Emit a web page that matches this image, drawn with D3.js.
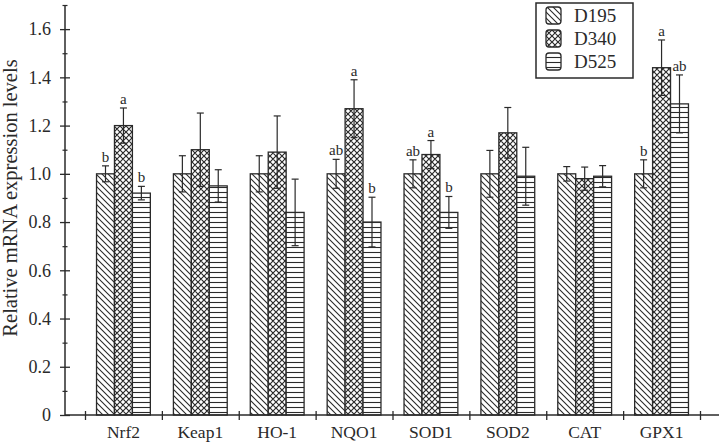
<!DOCTYPE html>
<html><head><meta charset="utf-8">
<script src="https://cdn.jsdelivr.net/npm/d3@7/dist/d3.min.js"></script>
<style>
body{margin:0;background:#fff;}
svg{display:block;font-family:"Liberation Serif","Times New Roman",serif;}
</style></head>
<body><svg id="chart" width="722" height="443"></svg>
<script>
const categories = ["Nrf2","Keap1","HO-1","NQO1","SOD1","SOD2","CAT","GPX1"];
const seriesNames = ["D195","D340","D525"];
const d195 = [1.00,1.00,1.00,1.00,1.00,1.00,1.00,1.00];
const d340 = [1.20,1.10,1.09,1.27,1.08,1.17,0.98,1.44];
const d525 = [0.92,0.95,0.84,0.80,0.84,0.99,0.99,1.29];
const d195Err = [0.033,0.075,0.075,0.06,0.058,0.097,0.03,0.058];
const d340Err = [0.073,0.152,0.15,0.12,0.058,0.105,0.048,0.115];
const d525Err = [0.028,0.067,0.138,0.103,0.066,0.12,0.044,0.12];
const d195Sig = ["b","","","ab","ab","","","b"];
const d340Sig = ["a","","","a","a","","","a"];
const d525Sig = ["b","","","b","b","","","ab"];
const yMajorTicks = [0,0.2,0.4,0.6,0.8,1.0,1.2,1.4,1.6];
const yMinorTicks = [0.1,0.3,0.5,0.7,0.9,1.1,1.3,1.5,1.7];
const yTitle = "Relative mRNA expression levels";

const values = [d195,d340,d525];
const errs = [d195Err,d340Err,d525Err];
const sigs = [d195Sig,d340Sig,d525Sig];

const svg = d3.select("#chart");
const ink = "#2a2a2a";
const defs = svg.append("defs");

// patterns
const p1 = defs.append("pattern").attr("id","pat0").attr("patternUnits","userSpaceOnUse")
  .attr("width",6).attr("height",6);
p1.append("rect").attr("width",6).attr("height",6).attr("fill","#fff");
p1.append("path").attr("d","M0,0L6,6M-3,3L3,9M3,-3L9,3").attr("stroke",ink).attr("stroke-width",1.1);

const p2 = defs.append("pattern").attr("id","pat1").attr("patternUnits","userSpaceOnUse")
  .attr("width",6).attr("height",6);
p2.append("rect").attr("width",6).attr("height",6).attr("fill","#fff");
p2.append("path").attr("d","M0,0L6,6M-3,3L3,9M3,-3L9,3M6,0L0,6M-3,3L3,-3M3,9L9,3").attr("stroke",ink).attr("stroke-width",1.2);

const p3 = defs.append("pattern").attr("id","pat2").attr("patternUnits","userSpaceOnUse")
  .attr("width",6).attr("height",5);
p3.append("rect").attr("width",6).attr("height",5).attr("fill","#fff");
p3.append("path").attr("d","M0,2.5L6,2.5").attr("stroke",ink).attr("stroke-width",1.1);

const y = d3.scaleLinear().domain([0,1.7]).range([415,5]);
const x = d3.scaleBand().domain(categories).range([85,700]).paddingInner(0.3).paddingOuter(0.15);
const xs = d3.scaleBand().domain(seriesNames).range([0,x.bandwidth()]);
const step = x.step();

// bars
categories.forEach((c,i)=>{
  seriesNames.forEach((s,j)=>{
    const v = values[j][i];
    const bx = x(c)+xs(s), bw = xs.bandwidth();
    svg.append("rect").attr("x",bx).attr("y",y(v)).attr("width",bw).attr("height",y(0)-y(v))
      .attr("fill",`url(#pat${j})`).attr("stroke",ink).attr("stroke-width",1.3);
  });
});
// error bars and letters
categories.forEach((c,i)=>{
  seriesNames.forEach((s,j)=>{
    const v = values[j][i], e = errs[j][i];
    const bx = x(c)+xs(s), bw = xs.bandwidth(), cx = bx+bw/2;
    const g = svg.append("g").attr("stroke",ink).attr("stroke-width",1.2);
    g.append("line").attr("x1",cx).attr("x2",cx).attr("y1",y(v+e)).attr("y2",y(v-e));
    g.append("line").attr("x1",cx-3.5).attr("x2",cx+3.5).attr("y1",y(v+e)).attr("y2",y(v+e));
    g.append("line").attr("x1",cx-3.5).attr("x2",cx+3.5).attr("y1",y(v-e)).attr("y2",y(v-e));
    if (sigs[j][i]) {
      svg.append("text").attr("x",cx).attr("y",y(v+e)-4).attr("text-anchor","middle")
        .attr("font-size",15).attr("fill",ink).text(sigs[j][i]);
    }
  });
});

// y axis
const yAxis = svg.append("g").attr("transform","translate(65,0)")
  .call(d3.axisLeft(y).tickValues(yMajorTicks).tickFormat(d=>d===0?"0":d3.format(".1f")(d)).tickSizeOuter(0).tickPadding(8));
yAxis.select(".domain").attr("stroke",ink).attr("stroke-width",1.5).attr("d","M0,415V5");
yAxis.selectAll(".tick line").attr("x1",-5).attr("x2",5).attr("stroke",ink).attr("stroke-width",1.3);
yAxis.selectAll(".tick text").attr("font-size",18).attr("fill",ink).attr("font-family","Liberation Serif, Times New Roman, serif");
const yMinor = svg.append("g").attr("transform","translate(65,0)")
  .call(d3.axisLeft(y).tickValues(yMinorTicks).tickFormat("").tickSizeOuter(0));
yMinor.select(".domain").remove();
yMinor.selectAll(".tick line").attr("x1",-2.5).attr("x2",2.5).attr("stroke",ink).attr("stroke-width",1.2);

// x axis
const xb = d3.scaleLinear().domain([0,categories.length]).range([85,85+step*categories.length]);
const xAxis = svg.append("g").attr("transform","translate(0,415)")
  .call(d3.axisBottom(xb).tickValues(d3.range(categories.length+1)).tickFormat("").tickSizeOuter(0));
xAxis.select(".domain").attr("stroke",ink).attr("stroke-width",1.5).attr("d","M65,0H719");
xAxis.selectAll(".tick line").attr("y1",-4).attr("y2",5).attr("stroke",ink).attr("stroke-width",1.3);
const xLab = svg.append("g").attr("transform","translate(0,415)")
  .call(d3.axisBottom(x).tickSize(0).tickPadding(11));
xLab.select(".domain").remove();
xLab.selectAll(".tick text").attr("font-size",17.5).attr("fill",ink).attr("font-family","Liberation Serif, Times New Roman, serif");

// y title
svg.append("text").attr("transform","translate(17,198) rotate(-90)").attr("text-anchor","middle")
  .attr("font-size",20.5).attr("fill",ink).text(yTitle);

// legend
const lg = svg.append("g");
lg.append("rect").attr("x",536).attr("y",3).attr("width",97).attr("height",75)
  .attr("fill","#fff").attr("stroke",ink).attr("stroke-width",1.5);
seriesNames.forEach((s,j)=>{
  const ry = 7 + j*23;
  lg.append("rect").attr("x",546).attr("y",ry).attr("width",15).attr("height",17).attr("rx",3)
    .attr("fill",`url(#pat${j})`).attr("stroke",ink).attr("stroke-width",1.3);
  lg.append("text").attr("x",574).attr("y",ry+15).attr("font-size",19).attr("fill",ink).text(s);
});
</script></body></html>
